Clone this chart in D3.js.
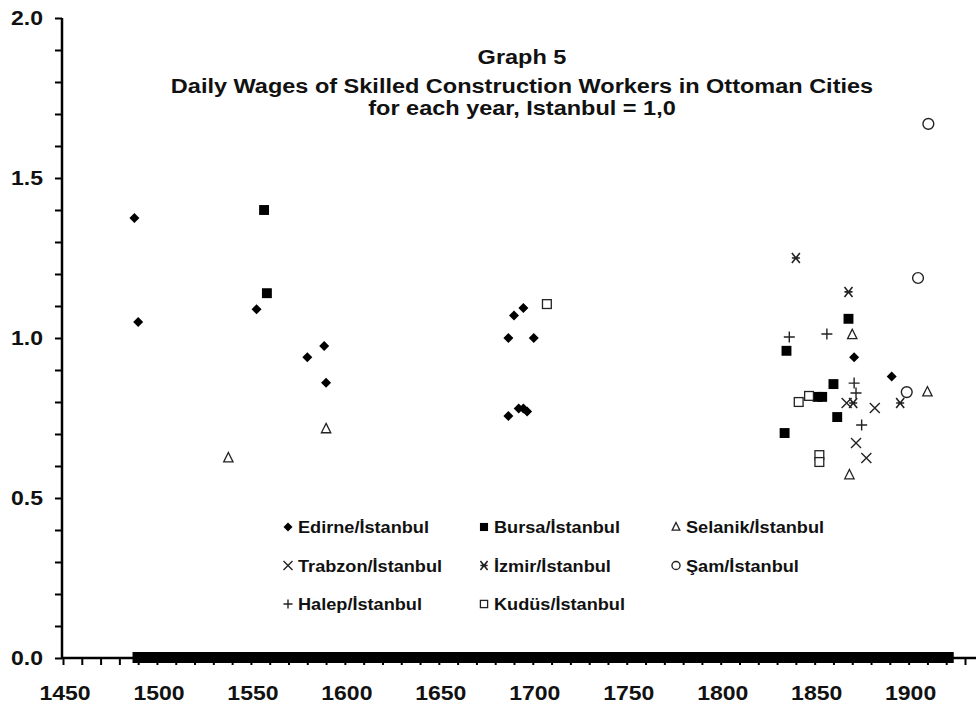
<!DOCTYPE html>
<html><head><meta charset="utf-8">
<script src="https://cdn.jsdelivr.net/npm/d3@7"></script>
<style>body{margin:0;background:#fff}svg{display:block}text{font-family:Arial,"Liberation Sans",sans-serif;font-weight:bold;fill:#111}</style>
</head><body><svg id="c" width="978" height="708"></svg>
<script>
const titleLines = ["Graph 5", "Daily Wages of Skilled Construction Workers in Ottoman Cities", "for each year, Istanbul = 1,0"];
const yTicks = [0, 0.5, 1.0, 1.5, 2.0];
const xTicks = [1450, 1500, 1550, 1600, 1650, 1700, 1750, 1800, 1850, 1900];

const edirne = [[1488,1.375],[1490,1.05],[1553,1.09],[1580,0.94],[1589,0.975],[1590,0.86],
  [1687,1.0],[1690,1.07],[1695,1.094],[1700.5,1.0],[1687,0.756],[1692.5,0.78],[1695,0.78],[1697,0.77],
  [1871,0.94],[1891,0.88]];
const bursa = [[1557,1.40],[1558.5,1.14],[1868,1.06],[1835,0.96],[1860,0.856],[1851.5,0.816],[1854,0.816],[1862,0.753],[1834,0.703]];
const selanik = [[1538,0.625],[1590,0.716],[1870,1.01],[1910,0.831],[1868.5,0.572]];
const trabzon = [[1867,0.797],[1882,0.781],[1872,0.672],[1877.5,0.625]];
const izmir = [[1840,1.25],[1868,1.144],[1870.5,0.797],[1895.5,0.797]];
const sam = [[1910.5,1.669],[1905,1.1875],[1899,0.831]];
const halep = [[1836.5,1.003],[1856.5,1.0125],[1871,0.859],[1872,0.828],[1875,0.728]];
const kudus = [[1707.5,1.106],[1841.5,0.80],[1847,0.819],[1852.5,0.634],[1852.5,0.6125]];
const zeroBand = [1487, 1924];

const legendLabels = ["Edirne/İstanbul","Bursa/İstanbul","Selanik/İstanbul","Trabzon/İstanbul","İzmir/İstanbul","Şam/İstanbul","Halep/İstanbul","Kudüs/İstanbul"];
const legendSymbols = ["diamond","square","triangle","x","star","circle","plus","osquare"];

const svg = d3.select("#c");
const x = d3.scaleLinear().domain([1450,1930]).range([63,965]);
const y = d3.scaleLinear().domain([0,2]).range([658,18]);

function stretchText(sel, px, py, sx) {
  return sel.attr("x", 0).attr("y", 0).attr("transform", (d,i) => `translate(${px(d,i)},${py(d,i)}) scale(${sx},1)`);
}

// zero band (many zero observations)
svg.append("rect").attr("x", x(zeroBand[0])).attr("width", x(zeroBand[1]) - x(zeroBand[0]))
  .attr("y", y(0) - 6).attr("height", 11).attr("fill", "#000");

// axes
const yAxis = d3.axisLeft(y).tickValues(d3.range(0, 2.0001, 0.1)).tickSize(7).tickFormat("");
const gy = svg.append("g").attr("transform","translate(62,0)").call(yAxis);
gy.select(".domain").attr("stroke","#000").attr("stroke-width",2.5).attr("d","M0,18V658");
gy.selectAll(".tick line").attr("stroke","#000").attr("stroke-width",2);
stretchText(svg.selectAll(".ylab").data(yTicks).enter().append("text").attr("class","ylab")
  .attr("text-anchor","end").attr("font-size", 20).text(d => d3.format(".1f")(d)),
  d => 43, d => y(d) + 7, 1.15);

const xAxis = d3.axisBottom(x).tickValues(d3.range(1450, 1931, 10)).tickSize(7).tickFormat("");
const gx = svg.append("g").attr("transform","translate(0,658)").call(xAxis);
gx.select(".domain").attr("stroke","#000").attr("stroke-width",2.5).attr("d","M62,0H976");
gx.selectAll(".tick line").attr("stroke","#000").attr("stroke-width",2);
stretchText(svg.selectAll(".xlab").data(xTicks).enter().append("text").attr("class","xlab")
  .attr("text-anchor","middle").attr("font-size", 20).text(d => d),
  d => x(d) + 2, d => 700, 1.15);

// title
stretchText(svg.selectAll(".title").data(titleLines).enter().append("text").attr("class","title")
  .attr("text-anchor","middle").attr("font-size", 20).text(d => d),
  d => 522, (d,i) => [64, 93, 115][i], 1.175);

// symbols
function drawSym(g, type, cx, cy, s) {
  const h = s/2;
  if (type === "diamond") g.append("path").attr("d", `M${cx},${cy-h}L${cx+h},${cy}L${cx},${cy+h}L${cx-h},${cy}Z`).attr("fill","#000");
  else if (type === "square") g.append("rect").attr("x",cx-h*0.9).attr("y",cy-h*0.9).attr("width",s*0.9).attr("height",s*0.9).attr("fill","#000");
  else if (type === "osquare") g.append("rect").attr("x",cx-h*0.8).attr("y",cy-h*0.8).attr("width",s*0.8).attr("height",s*0.8).attr("fill","#fff").attr("stroke","#222").attr("stroke-width",1.3);
  else if (type === "triangle") g.append("path").attr("d", `M${cx},${cy-h}L${cx+h*0.85},${cy+h*0.7}L${cx-h*0.85},${cy+h*0.7}Z`).attr("fill","#fff").attr("stroke","#222").attr("stroke-width",1.3);
  else if (type === "circle") g.append("circle").attr("cx",cx).attr("cy",cy).attr("r",h*0.9).attr("fill","#fff").attr("stroke","#222").attr("stroke-width",1.4);
  else if (type === "x") g.append("path").attr("d", `M${cx-h},${cy-h}L${cx+h},${cy+h}M${cx+h},${cy-h}L${cx-h},${cy+h}`).attr("stroke","#222").attr("stroke-width",1.4);
  else if (type === "plus") g.append("path").attr("d", `M${cx-h},${cy}L${cx+h},${cy}M${cx},${cy-h}L${cx},${cy+h}`).attr("stroke","#222").attr("stroke-width",1.4);
  else if (type === "star") g.append("path").attr("d", `M${cx-h*0.8},${cy-h}L${cx+h*0.8},${cy+h}M${cx+h*0.8},${cy-h}L${cx-h*0.8},${cy+h}M${cx-h*0.8},${cy}L${cx+h*0.8},${cy}`).attr("stroke","#222").attr("stroke-width",1.6);
}

const series = [[edirne,"diamond",10],[bursa,"square",11],[selanik,"triangle",11],[trabzon,"x",10],[izmir,"star",10],[sam,"circle",12],[halep,"plus",11],[kudus,"osquare",11]];
const pts = svg.append("g");
series.forEach(([data, type, s]) => data.forEach(d => drawSym(pts, type, x(d[0]), y(d[1]), s)));

// legend
const lg = svg.append("g");
const colX = [288, 484, 676], rowY = [527, 565.5, 604];
legendLabels.forEach((lab, i) => {
  const cx = colX[i % 3], cy = rowY[Math.floor(i / 3)];
  drawSym(lg, legendSymbols[i], cx, cy, 9);
  lg.append("text").attr("x", 0).attr("y", 0)
    .attr("transform", `translate(${cx + 10},${cy + 6}) scale(1.1,1)`)
    .attr("font-size", 16.5).text(lab);
});
</script></body></html>
